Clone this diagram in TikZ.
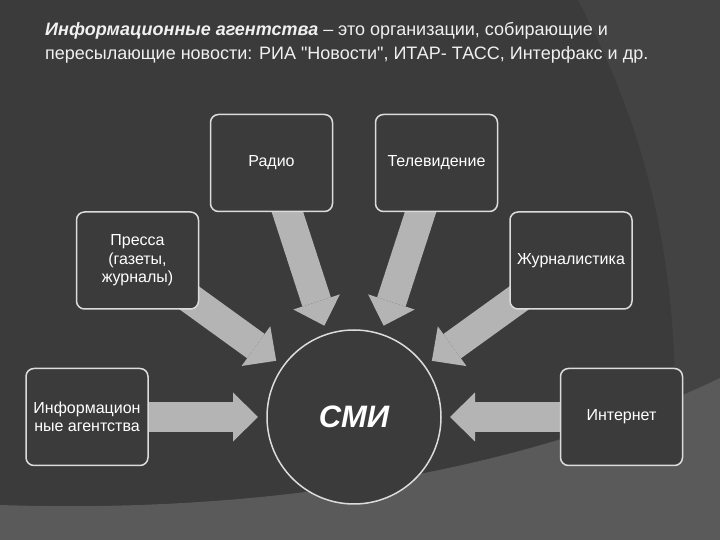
\documentclass[tikz,border=0pt]{standalone}
\usepackage{fontspec}
\setmainfont{Liberation Sans}[Ligatures=TeXOff]
\usetikzlibrary{arrows.meta, calc, positioning}
\definecolor{slate}{HTML}{3B3B3B}
\definecolor{band}{HTML}{434343}
\definecolor{floor}{HTML}{5A5A5A}
\definecolor{arrowgray}{HTML}{B4B4B4}
\definecolor{rim}{HTML}{DCDCDC}
\pgfdeclarelayer{backdrop}
\pgfdeclarelayer{links}
\pgfsetlayers{backdrop,links,main}

\begin{document}
\begin{tikzpicture}[x=1pt, y=1pt,
  media/.style={draw=rim, line width=1.5pt, fill=slate, rounded corners=8pt,
    minimum width=122pt, minimum height=97pt, align=center, text=white,
    font=\fontsize{16}{18.5}\selectfont, inner sep=2pt},
  hub/.style={circle, draw=rim, line width=1.5pt, fill=slate, minimum size=174pt,
    text=white, font=\fontsize{31}{36}\selectfont\bfseries\itshape},
  flow/.style={draw=arrowgray, line width=30pt,
    -{Triangle[width=49pt, length=25pt, line width=0pt]}}]

  % background
  \begin{pgfonlayer}{backdrop}
    \fill[slate] (0,0) rectangle (720,540);
    \fill[band] (578,540) .. controls (630,440) and (675,320) .. (675,140)
      -- (720,140) -- (720,540) -- cycle;
    \fill[floor] (0,35) .. controls (300,25) and (550,80) .. (720,162)
      -- (720,0) -- (0,0) -- cycle;
  \end{pgfonlayer}

  % title
  \node[anchor=base west, inner sep=0pt, align=left, text=white!94!black,
    font=\fontsize{18}{24}\selectfont] (title) at (45,480)
    {\textbf{\textit{Информационные агентства}} – это организации, собирающие и\\
     пересылающие новости: РИА "Новости", ИТАР- ТАСС, Интерфакс и др.};

  % centre
  \node[hub] (smi) at (354,123) {СМИ};

  % sources
  \node[media] (radio) at (271.5,377) {Радио};
  \node[media] (tv) at (436.5,377) {Телевидение};
  \node[media] (press) at (137.5,279.5) {Пресса\\(газеты,\\журналы)};
  \node[media] (journ) at (571,279.5) {Журналистика};
  \node[media] (agency) at (87,123) {Информацион\\ные агентства};
  \node[media] (inet) at (621.5,123) {Интернет};

  % arrows
  \begin{pgfonlayer}{links}
    \foreach \src in {radio, tv, press, journ, agency, inet}
      \draw[flow] (\src.center) -- ($(smi.center)!96pt!(\src.center)$);
  \end{pgfonlayer}
\end{tikzpicture}
\end{document}
